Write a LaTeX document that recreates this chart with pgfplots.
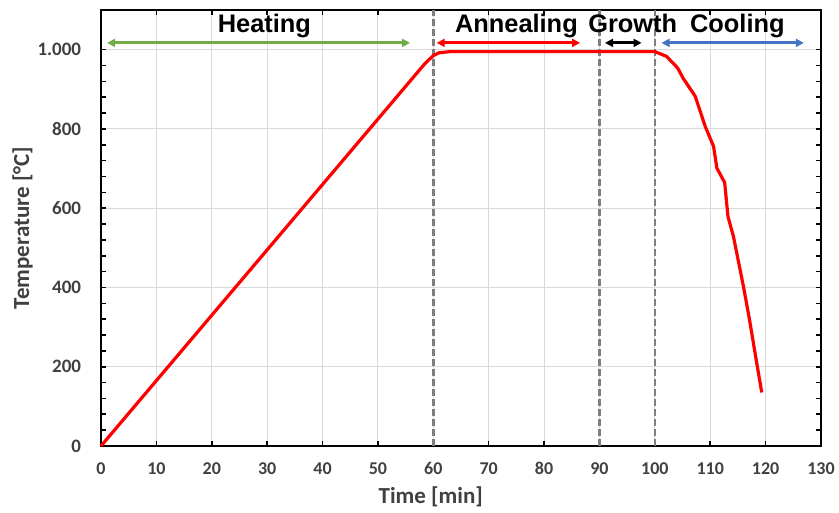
\documentclass[border=0pt]{standalone}
\usepackage{fontspec}
\usepackage{pgfplots}
\pgfplotsset{compat=1.18}
\usetikzlibrary{arrows.meta}
\newfontfamily\carlito{Carlito}
\newfontfamily\arialf{Liberation Sans}
\definecolor{lblgray}{HTML}{404040}
\definecolor{gridgray}{HTML}{D9D9D9}
\definecolor{dashgray}{HTML}{7F7F7F}
\definecolor{heatgreen}{HTML}{70AD47}
\definecolor{coolblue}{HTML}{4472C4}

\begin{document}
\begin{tikzpicture}
  \useasboundingbox (-50.5pt,-33.5pt) rectangle (369pt,223pt);
  \begin{axis}[
    scale only axis,
    width=360pt, height=218pt,
    xmin=0, xmax=130, ymin=0, ymax=1100,
    xtick={0,10,...,130},
    ytick={0,200,...,1000},
    minor y tick num=4,
    tick align=inside,
    major tick length=2.5pt, minor tick length=2.5pt,
    every tick/.style={black, line width=0.8pt},
    grid=major,
    major grid style={gridgray, line width=0.5pt},
    axis line style={black, line width=1.3pt},
    /pgf/number format/assume math mode=true,
    /pgf/number format/1000 sep={.},
    xticklabel style={font=\carlito\bfseries\fontsize{9}{10}\selectfont, text=lblgray, anchor=base, yshift=-14.5pt},
    yticklabel style={font=\carlito\bfseries\fontsize{9.5}{10}\selectfont, text=lblgray, anchor=east, inner sep=0pt, xshift=-9.75pt},
    xlabel={Time [min]},
    ylabel={Temperature [°C]},
    xlabel style={font=\carlito\bfseries\fontsize{11.5}{13}\selectfont, text=lblgray, at={(axis description cs:0.458,-0.133)}, anchor=base},
    ylabel style={font=\carlito\bfseries\fontsize{11.5}{13}\selectfont, text=lblgray, at={(axis description cs:-0.0997,0.5)}, anchor=base, rotate=0},
    clip=false,
  ]
    % phase boundaries
    \addplot[dashgray, line width=1.25pt, dash pattern=on 3.5pt off 1.5pt] coordinates {(60,0) (60,1100)};
    \addplot[dashgray, line width=1.25pt, dash pattern=on 3.5pt off 1.5pt] coordinates {(90,0) (90,1100)};
    \addplot[dashgray, line width=1.25pt, dash pattern=on 3.5pt off 1.5pt] coordinates {(100,0) (100,1100)};

    % temperature profile
    \addplot[red, line width=1.6pt, line join=round] coordinates {
      (0,0) (58.5,965) (60,985) (61,992) (63,995) (100,995)
      (102.1,983) (104.1,954) (105.1,928) (107.3,882) (109.1,806)
      (110.6,756) (111.2,701) (112.6,665) (113.2,579) (114.2,528)
      (116.0,402) (117.0,326) (118.4,209) (119.3,135)
    };

    % phase arrows
    \draw[heatgreen, line width=1.5pt, {Triangle[length=4pt,width=4pt]}-{Triangle[length=4pt,width=4pt]}] (axis cs:1.1,1017) -- (axis cs:55.8,1017);
    \draw[red, line width=1.5pt, {Triangle[length=4pt,width=4pt]}-{Triangle[length=4pt,width=4pt]}] (axis cs:60.6,1017) -- (axis cs:86.5,1017);
    \draw[black, line width=1.5pt, {Triangle[length=4pt,width=4pt]}-{Triangle[length=4pt,width=4pt]}] (axis cs:91.0,1017) -- (axis cs:97.6,1017);
    \draw[coolblue, line width=1.5pt, {Triangle[length=4pt,width=4pt]}-{Triangle[length=4pt,width=4pt]}] (axis cs:101.2,1017) -- (axis cs:126.9,1017);

    \begin{scope}[every node/.style={font=\arialf\bfseries\fontsize{12.7}{14}\selectfont, anchor=base}]
      \node at (axis cs:29.5,1042) {Heating};
      \node at (axis cs:75.0,1042) {Annealing};
      \node at (axis cs:96.0,1042) {Growth};
      \node at (axis cs:114.9,1042) {Cooling};
    \end{scope}
  \end{axis}
\end{tikzpicture}
\end{document}
